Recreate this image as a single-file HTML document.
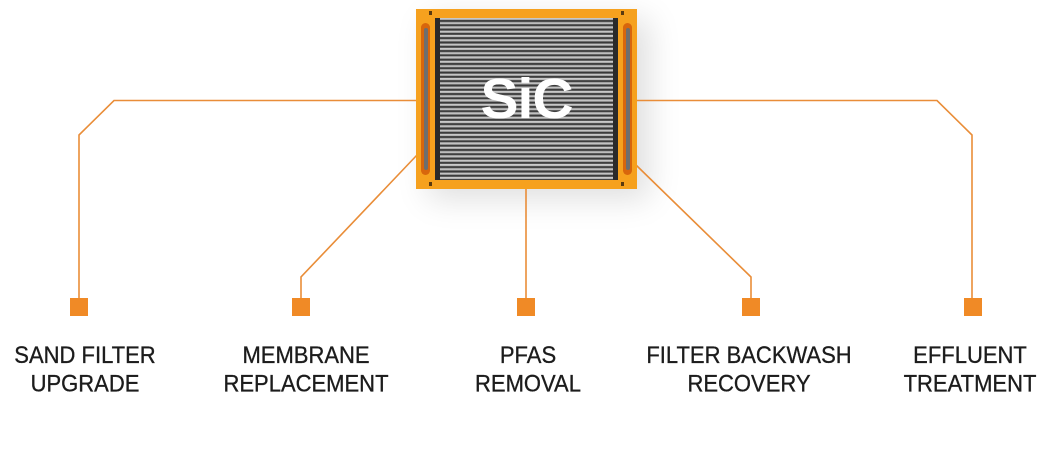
<!DOCTYPE html>
<html><head><meta charset="utf-8"><style>
html,body{margin:0;padding:0;background:#fff;}
body{width:1051px;height:451px;position:relative;overflow:hidden;font-family:"Liberation Sans",sans-serif;}
.shadow{position:absolute;left:416px;top:9px;width:221px;height:180px;box-shadow:12px 10px 30px rgba(0,0,0,0.13);}
.frame{position:absolute;left:416px;top:9px;width:221px;height:180px;background:#F6A11E;}
.grill{position:absolute;left:435px;top:18px;width:183px;height:162px;
background:repeating-linear-gradient(180deg,#cfcfcf 0px,#b5b5b5 1.6px,#454545 2.2px,#333 3.2px,#8a8a8a 4.3px);}
.grill:before,.grill:after{content:"";position:absolute;top:0;bottom:0;width:5px;background:#2a2a2a;}
.grill:before{left:0}
.grill:after{right:0}
.slot{position:absolute;top:23px;width:9px;height:152px;border-radius:5px;background:#d8660c;}
.slot i{position:absolute;left:3px;right:2px;top:5px;bottom:5px;border-radius:2px;background:#6e6e6e;}
.sic{position:absolute;left:416px;width:221px;top:59px;text-align:center;color:#fff;font-weight:bold;font-size:57px;line-height:80px;letter-spacing:-1px;}
.lbl{position:absolute;top:341px;text-align:center;font-size:22px;line-height:26px;color:#1c1c1c;white-space:nowrap;transform:scaleY(1.1);transform-origin:top center;-webkit-text-stroke:0.3px #1c1c1c;}
.mk{position:absolute;width:3px;height:4px;background:#5a3a10;}
</style></head><body>
<div class="shadow"></div>
<svg style="position:absolute;left:0;top:0" width="1051" height="451">
<g stroke="#E98D38" stroke-width="1.6" fill="none">
<polyline points="417,100.5 114,100.5 79,135 79,299"/>
<polyline points="417,155 301,277 301,299"/>
<polyline points="526,188 526,299"/>
<polyline points="636,165 751,277 751,299"/>
<polyline points="636,100.5 937,100.5 972,135 972,299"/>
</g>
<g fill="#F08A26">
<rect x="70" y="298" width="18" height="18"/>
<rect x="292" y="298" width="18" height="18"/>
<rect x="517" y="298" width="18" height="18"/>
<rect x="742" y="298" width="18" height="18"/>
<rect x="964" y="298" width="18" height="18"/>
</g>
</svg>
<div class="frame"></div>
<div class="grill"></div>
<div class="slot" style="left:421px"><i></i></div>
<div class="slot" style="left:623px"><i></i></div>
<div class="mk" style="left:429px;top:11px"></div>
<div class="mk" style="left:621px;top:11px"></div>
<div class="mk" style="left:429px;top:182px"></div>
<div class="mk" style="left:621px;top:182px"></div>
<div class="sic">SiC</div>
<div class="lbl" style="left:-15px;width:200px">SAND FILTER<br>UPGRADE</div>
<div class="lbl" style="left:206px;width:200px">MEMBRANE<br>REPLACEMENT</div>
<div class="lbl" style="left:428px;width:200px">PFAS<br>REMOVAL</div>
<div class="lbl" style="left:639px;width:220px">FILTER BACKWASH<br>RECOVERY</div>
<div class="lbl" style="left:870px;width:200px">EFFLUENT<br>TREATMENT</div>
</body></html>
